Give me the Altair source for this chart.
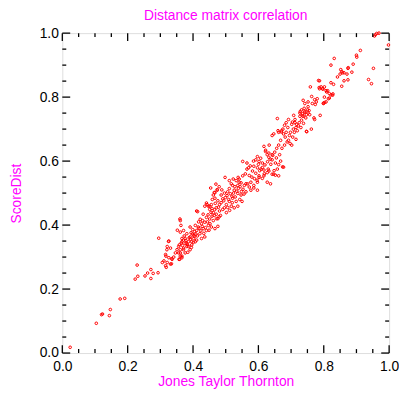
import altair as alt
import pandas as pd

# ---- data (x = Jones Taylor Thornton, y = ScoreDist) ----
tail = [(0.024,0.018),(0.104,0.093),(0.120,0.120),(0.123,0.122),(0.144,0.117),(0.147,0.136),
        (0.177,0.169),(0.191,0.171),(0.223,0.231),(0.229,0.275),(0.231,0.240),(0.253,0.241),
        (0.261,0.250),(0.271,0.261),(0.278,0.249),(0.271,0.233),(0.293,0.251),(0.295,0.359),
        (0.306,0.283),(0.311,0.288),(0.317,0.303),(0.318,0.268),(0.320,0.323),(0.325,0.349),
        (0.334,0.279),(0.335,0.295),(0.326,0.350),(0.321,0.333),(0.331,0.328),(0.316,0.308),
        (0.326,0.298),(0.321,0.283),(0.316,0.273),(0.331,0.278),(0.336,0.293),(0.346,0.313),
        (0.341,0.300)]

low = [(0.352,0.384),(0.360,0.419),(0.361,0.414),(0.363,0.399),(0.356,0.333),(0.361,0.323),
       (0.371,0.328),(0.386,0.333),(0.356,0.313),(0.361,0.303),(0.359,0.293),(0.366,0.358),
       (0.371,0.353),(0.376,0.343),(0.381,0.343),(0.386,0.348),(0.381,0.333),(0.371,0.323),
       (0.361,0.313),(0.366,0.298),(0.376,0.313),(0.391,0.323),(0.396,0.338),(0.402,0.358),
       (0.407,0.348),(0.391,0.394),(0.411,0.383),(0.421,0.373),(0.402,0.368),(0.391,0.363),
       (0.381,0.373),(0.371,0.383),(0.361,0.378),(0.376,0.358),(0.366,0.348),(0.396,0.348),
       (0.411,0.353),(0.426,0.358),(0.436,0.363),(0.414,0.442),(0.436,0.459),(0.431,0.434),
       (0.441,0.424),(0.451,0.419),(0.462,0.414),(0.436,0.409),(0.426,0.404),(0.447,0.399),
       (0.456,0.394),(0.467,0.389),(0.476,0.396),(0.441,0.383),(0.431,0.389),(0.416,0.394),
       (0.407,0.399),(0.384,0.315),(0.357,0.293),(0.366,0.303),(0.392,0.356),(0.398,0.372),
       (0.405,0.380),(0.413,0.366),(0.418,0.390),(0.424,0.382),(0.428,0.396),(0.433,0.374),
       (0.438,0.392),(0.444,0.410),(0.449,0.384),(0.452,0.404),(0.458,0.428),(0.422,0.418),
       (0.417,0.410),(0.429,0.414),(0.373,0.366),(0.378,0.352),(0.383,0.338),(0.388,0.360),
       (0.394,0.376),(0.399,0.386),(0.404,0.364),(0.409,0.372),(0.368,0.336),(0.364,0.344),
       (0.358,0.338),(0.395,0.330),(0.401,0.346),(0.351,0.323),(0.411,0.444),(0.443,0.464),
       (0.451,0.459),(0.446,0.432),(0.455,0.440),(0.465,0.430),(0.472,0.420),(0.480,0.426)]

mid = [(0.454,0.516),(0.474,0.509),(0.462,0.494),(0.467,0.484),(0.476,0.476),(0.486,0.494),
       (0.491,0.482),(0.481,0.464),(0.471,0.454),(0.456,0.464),(0.441,0.469),(0.447,0.459),
       (0.451,0.449),(0.462,0.439),(0.471,0.434),(0.481,0.444),(0.491,0.449),(0.502,0.439),
       (0.498,0.549),(0.511,0.539),(0.517,0.529),(0.521,0.524),(0.511,0.514),(0.506,0.504),
       (0.526,0.509),(0.537,0.499),(0.547,0.494),(0.521,0.484),(0.532,0.474),(0.511,0.474),
       (0.502,0.464),(0.496,0.454),(0.517,0.459),(0.526,0.454),(0.537,0.459),(0.550,0.474),
       (0.552,0.554),(0.541,0.544),(0.532,0.539),(0.547,0.532),(0.557,0.524),(0.486,0.470),
       (0.494,0.476),(0.499,0.486),(0.504,0.492),(0.509,0.480),(0.514,0.498),(0.519,0.490),
       (0.524,0.500),(0.529,0.488),(0.534,0.506),(0.539,0.515),(0.544,0.520),(0.528,0.520),
       (0.496,0.500),(0.488,0.510),(0.480,0.520),(0.470,0.528),(0.465,0.502),(0.459,0.480),
       (0.468,0.468),(0.478,0.456),(0.484,0.430),(0.476,0.420),(0.466,0.448),(0.458,0.452),
       (0.506,0.455),(0.512,0.446),(0.520,0.470),(0.543,0.480),(0.548,0.505),(0.553,0.512),
       (0.556,0.497),(0.467,0.501),(0.474,0.511),(0.523,0.544),(0.538,0.549),(0.541,0.534),
       (0.537,0.524),(0.562,0.529),(0.572,0.519),(0.586,0.524),(0.597,0.534),(0.602,0.549)]

upper = [(0.565,0.594),(0.570,0.579),(0.582,0.569),(0.592,0.562),(0.602,0.554),(0.612,0.546),
         (0.627,0.534),(0.637,0.529),(0.552,0.599),(0.597,0.614),(0.607,0.609),(0.592,0.604),
         (0.602,0.599),(0.612,0.594),(0.586,0.584),(0.597,0.579),(0.617,0.572),(0.627,0.564),
         (0.642,0.559),(0.652,0.556),(0.662,0.554),(0.567,0.529),(0.577,0.534),(0.586,0.516),
         (0.597,0.509),(0.577,0.509),(0.562,0.504),(0.617,0.646),(0.622,0.630),(0.627,0.620),
         (0.632,0.612),(0.642,0.604),(0.652,0.594),(0.662,0.589),(0.674,0.582),(0.642,0.680),
         (0.647,0.685),(0.660,0.695),(0.572,0.555),(0.580,0.550),(0.588,0.545),(0.596,0.540),
         (0.604,0.570),(0.612,0.580),(0.620,0.588),(0.628,0.598),(0.636,0.606),(0.644,0.618),
         (0.650,0.628),(0.656,0.640),(0.662,0.650),(0.638,0.590),(0.630,0.575),(0.618,0.560),
         (0.608,0.575),(0.600,0.590),(0.585,0.600),(0.575,0.585),(0.565,0.575),(0.560,0.560),
         (0.655,0.610),(0.665,0.620),(0.668,0.600),(0.658,0.575),(0.648,0.570),(0.633,0.650),
         (0.622,0.634),(0.632,0.625),(0.642,0.620),(0.617,0.554),(0.632,0.569),(0.647,0.559)]

high = [(0.658,0.733),(0.708,0.743),(0.670,0.691),(0.677,0.685),(0.682,0.675),(0.692,0.665),
        (0.697,0.655),(0.702,0.650),(0.704,0.722),(0.712,0.720),(0.717,0.715),(0.707,0.700),
        (0.719,0.695),(0.722,0.710),(0.702,0.715),(0.677,0.581),(0.727,0.740),(0.735,0.748),
        (0.742,0.752),(0.750,0.760),(0.757,0.745),(0.745,0.735),(0.732,0.728),(0.770,0.735),
        (0.772,0.730),(0.762,0.700),(0.748,0.692),(0.763,0.802),(0.772,0.792),(0.777,0.785),
        (0.765,0.780),(0.774,0.777),(0.780,0.795),(0.789,0.743),(0.759,0.832),(0.784,0.852),
        (0.786,0.830),(0.792,0.832),(0.685,0.690),(0.690,0.705),(0.695,0.680),(0.688,0.660),
        (0.680,0.650),(0.672,0.640),(0.668,0.665),(0.675,0.700),(0.680,0.712),(0.685,0.720),
        (0.692,0.730),(0.698,0.690),(0.710,0.690),(0.715,0.705),(0.725,0.720),(0.730,0.705),
        (0.738,0.718),(0.728,0.755),(0.740,0.765),(0.752,0.770),(0.755,0.758),(0.735,0.742),
        (0.715,0.668),(0.705,0.675),(0.737,0.790),(0.742,0.780),(0.752,0.785),(0.732,0.760),
        (0.742,0.755),(0.747,0.745),(0.752,0.750),(0.737,0.740),(0.727,0.750),(0.712,0.730),
        (0.662,0.690),(0.671,0.695),(0.747,0.693)]

top = [(0.802,0.832),(0.822,0.845),(0.830,0.840),(0.828,0.810),(0.822,0.807),(0.814,0.795),
       (0.802,0.783),(0.799,0.780),(0.807,0.820),(0.812,0.820),(0.802,0.800),(0.807,0.785),
       (0.832,0.921),(0.822,0.900),(0.874,0.890),(0.890,0.903),(0.886,0.878),(0.952,0.890),
       (0.937,0.855),(0.946,0.842),(0.852,0.886),(0.855,0.880),(0.850,0.872),(0.842,0.863),
       (0.871,0.872),(0.862,0.851),(0.855,0.834),(0.912,0.946),(0.900,0.931),(0.901,0.925),
       (0.955,0.991),(0.962,0.999),(0.969,1.000),(0.998,0.963),(0.958,0.995),(0.875,0.892),
       (0.857,0.876),(0.862,0.876),(0.874,0.854),(0.787,0.851),(0.797,0.826),(0.787,0.826),
       (0.809,0.816),(0.817,0.811),(0.827,0.806),(0.817,0.797),(0.797,0.825),(0.799,0.781)]

major_ticks = [0.0, 0.2, 0.4, 0.6, 0.8, 1.0]
minor_ticks = [0.05, 0.10, 0.15, 0.25, 0.30, 0.35, 0.45, 0.50, 0.55,
               0.65, 0.70, 0.75, 0.85, 0.90, 0.95]

W, H = 331, 324
MAG = "#ff00ff"
FONT = "Liberation Sans"

pts = pd.DataFrame(tail + low + mid + upper + high + top, columns=["x", "y"])
sx = alt.Scale(domain=[0, 1], nice=False, zero=False)
sy = alt.Scale(domain=[0, 1], nice=False, zero=False)

x_axis = alt.Axis(
    values=major_ticks, format=".1f", ticks=False, domain=False, grid=False,
    labelFlush=False, labelOverlap=False,
    labelFontSize=14, labelFont=FONT, labelColor="black", labelPadding=7,
    title="Jones Taylor Thornton", titleColor=MAG, titleFont=FONT,
    titleFontSize=14, titleFontWeight="normal", titlePadding=1)
y_axis = alt.Axis(
    values=major_ticks, format=".1f", ticks=False, domain=False, grid=False,
    labelFlush=False, labelOverlap=False,
    labelFontSize=14, labelFont=FONT, labelColor="black", labelPadding=4,
    title="ScoreDist", titleColor=MAG, titleFont=FONT,
    titleFontSize=14, titleFontWeight="normal", titlePadding=16)

points = alt.Chart(pts).mark_point(
    shape="circle", filled=False, color="#ff0000", size=7, strokeWidth=1, opacity=1
).encode(
    x=alt.X("x:Q", scale=sx, axis=x_axis),
    y=alt.Y("y:Q", scale=sy, axis=y_axis),
)

def tick_layers(vals, length):
    d = pd.DataFrame({"x": vals, "y": vals})
    base = alt.Chart(d).mark_rule(color="black", strokeWidth=1.3)
    return [
        base.encode(x=alt.X("x:Q", scale=sx, axis=x_axis), y=alt.value(H), y2=alt.value(H - length)),
        base.encode(x=alt.X("x:Q", scale=sx, axis=x_axis), y=alt.value(0), y2=alt.value(length)),
        base.encode(y=alt.Y("y:Q", scale=sy, axis=y_axis), x=alt.value(0), x2=alt.value(length)),
        base.encode(y=alt.Y("y:Q", scale=sy, axis=y_axis), x=alt.value(W), x2=alt.value(W - length)),
    ]

layers = [points] + tick_layers(major_ticks, 8) + tick_layers(minor_ticks, 4)

chart = alt.layer(*layers).properties(
    width=W, height=H,
    title=alt.TitleParams("Distance matrix correlation", color=MAG, font=FONT,
                          fontSize=14, fontWeight="normal", anchor="middle", offset=3),
    padding={"left": 55, "top": 23, "right": 10, "bottom": 37},
    autosize="none",
).configure_view(stroke="black", strokeWidth=1.5).configure(background="white")

chart.save("out.html", embed_options={"renderer": "svg", "actions": False})
